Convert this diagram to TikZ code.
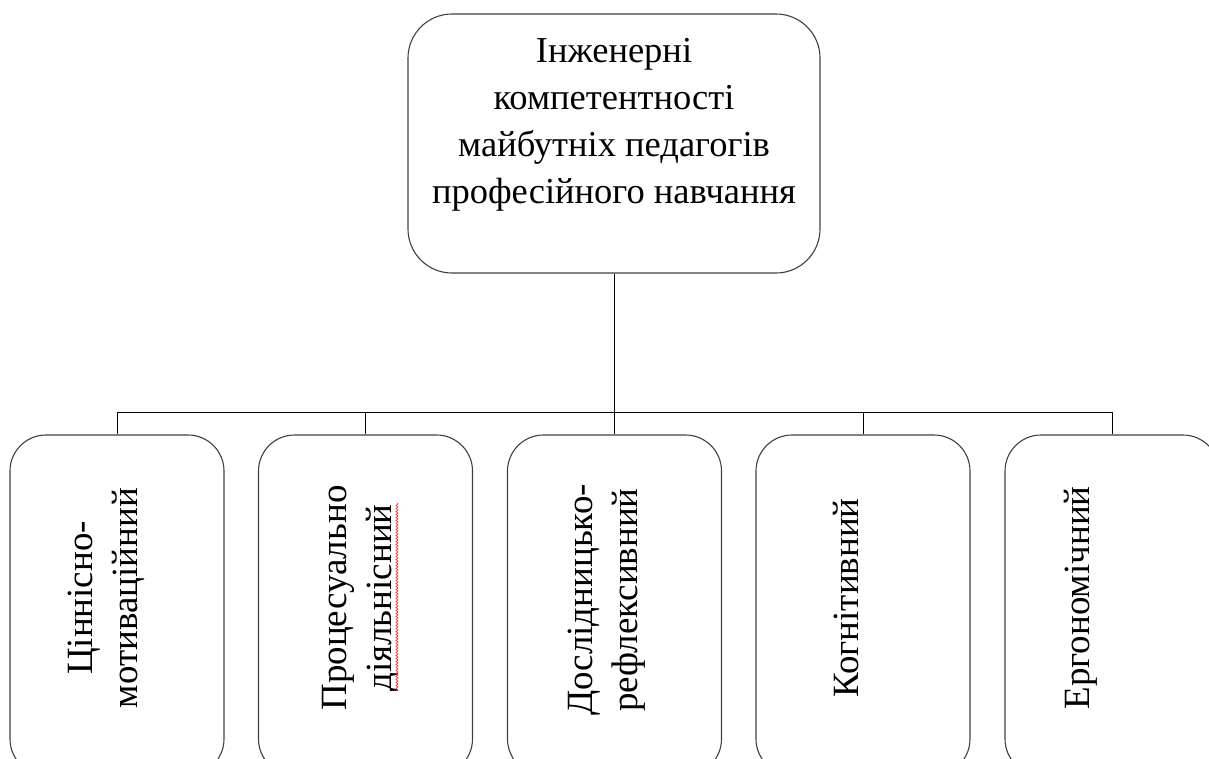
\documentclass[tikz,border=0pt]{standalone}
\usepackage{fontspec}
\setmainfont{Liberation Serif}
\usetikzlibrary{decorations.pathmorphing}
\begin{document}
\begin{tikzpicture}[x=1pt,y=-1pt,
  boxstyle/.style={draw=black!75,line width=1.1pt,rounded corners=36pt,minimum width=214pt,minimum height=340pt,inner sep=0pt},
  topbox/.style={draw=black!75,line width=1.1pt,rounded corners=44pt,minimum width=412pt,minimum height=259pt,inner sep=0pt},
  conn/.style={draw=black,line width=1pt},
  lbl/.style={font=\fontsize{37}{45}\selectfont,align=center,inner sep=0pt},
  vlbl/.style={lbl,rotate=90}]
\useasboundingbox (0,0) rectangle (1209,758);
\node[topbox] (top) at (614,143.5) {};
\node[lbl,anchor=north,font=\fontsize{36.5}{47}\selectfont] (toptext) at (614,38) {Інженерні\\компетентності\\майбутніх педагогів\\професійного навчання};
\node[boxstyle] (b1) at (117,605) {};
\node[boxstyle] (b2) at (365.5,605) {};
\node[boxstyle] (b3) at (614.5,605) {};
\node[boxstyle] (b4) at (863,605) {};
\node[boxstyle] (b5) at (1112,605) {};
\node[vlbl] (t1) at (106,598) {Ціннісно-\\мотиваційний};
\node[vlbl] (t2) at (360,598) {Процесуально\\діяльнісний};
\node[vlbl] (t3) at (607,600) {Дослідницько-\\рефлексивний};
\node[vlbl] (t4) at (846,598) {Когнітивний};
\node[vlbl] (t5) at (1081,598) {Ергономічний};
\coordinate (j) at (614,412);
\draw[conn] (top.south) -- (top.south |- j);
\draw[conn] (b1.north |- j) -- (b5.north |- j);
\foreach \i in {1,...,5} \draw[conn] (b\i.north |- j) -- (b\i.north);
\coordinate (w1) at (397,503);
\coordinate (w2) at (397,690);
\draw[red!80,line width=0.7pt,decorate,decoration={snake,amplitude=1pt,segment length=3pt}] (w1) -- (w2);
\end{tikzpicture}
\end{document}
